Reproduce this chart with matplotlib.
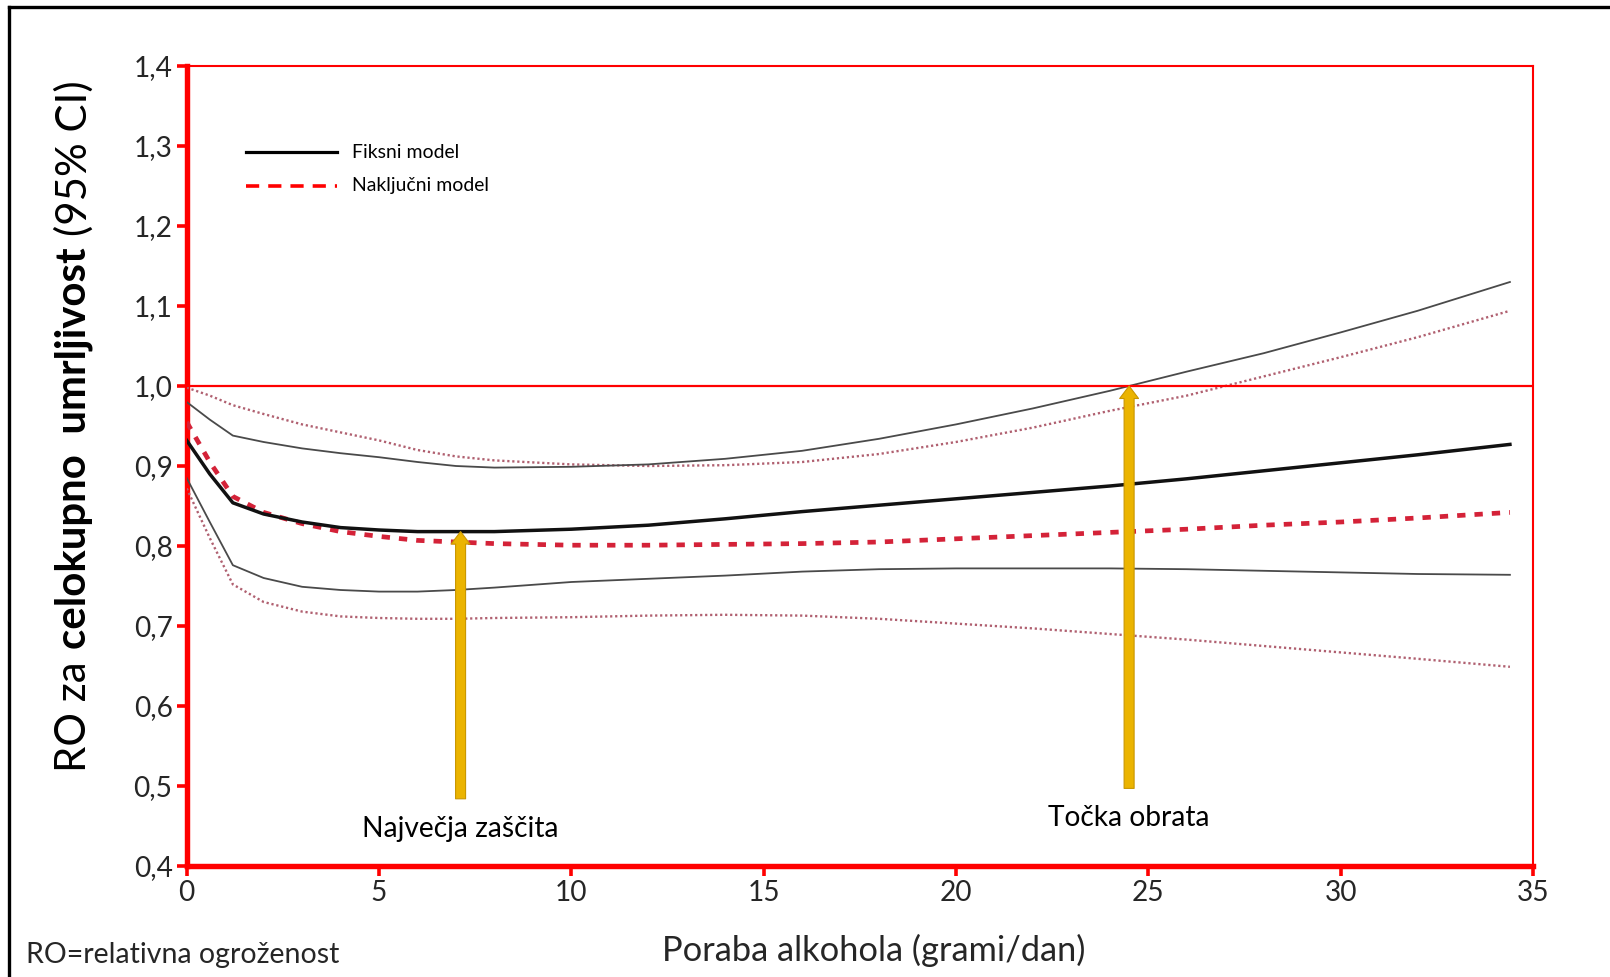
import matplotlib
matplotlib.use("Agg")
import matplotlib.pyplot as plt
from matplotlib.lines import Line2D
from matplotlib.ticker import FixedLocator, FuncFormatter

plt.rcParams['font.family'] = ['Lato', 'DejaVu Sans']
plt.rcParams['lines.scale_dashes'] = False

# ---------------- data ----------------
alcohol = [0, 0.6, 1.2, 2, 3, 4, 5, 6, 7, 8, 10, 12, 14, 16, 18, 20, 22, 24, 26, 28, 30, 32, 34.4]
fixed_rr = [0.932, 0.890, 0.854, 0.840, 0.830, 0.823, 0.820, 0.818, 0.818, 0.818, 0.821, 0.826,
            0.834, 0.843, 0.851, 0.859, 0.867, 0.875, 0.884, 0.894, 0.904, 0.914, 0.927]
fixed_upper = [0.980, 0.958, 0.938, 0.930, 0.922, 0.916, 0.911, 0.905, 0.900, 0.898, 0.899, 0.902,
               0.909, 0.919, 0.934, 0.952, 0.972, 0.994, 1.018, 1.041, 1.067, 1.094, 1.130]
fixed_lower = [0.885, 0.830, 0.776, 0.760, 0.749, 0.745, 0.743, 0.743, 0.745, 0.748, 0.755, 0.759,
               0.763, 0.768, 0.771, 0.772, 0.772, 0.772, 0.771, 0.769, 0.767, 0.765, 0.764]
random_rr = [0.955, 0.905, 0.862, 0.842, 0.828, 0.818, 0.812, 0.807, 0.805, 0.803, 0.801, 0.801,
             0.802, 0.803, 0.805, 0.809, 0.813, 0.817, 0.821, 0.826, 0.830, 0.835, 0.842]
random_upper = [0.998, 0.988, 0.976, 0.965, 0.952, 0.942, 0.932, 0.920, 0.912, 0.907, 0.902, 0.900,
                0.901, 0.905, 0.915, 0.930, 0.948, 0.969, 0.988, 1.012, 1.036, 1.061, 1.094]
random_lower = [0.872, 0.810, 0.752, 0.730, 0.718, 0.712, 0.710, 0.709, 0.709, 0.710, 0.711, 0.713,
                0.714, 0.713, 0.709, 0.703, 0.697, 0.690, 0.683, 0.675, 0.667, 0.659, 0.649]

x_ticks = [0, 5, 10, 15, 20, 25, 30, 35]
y_ticks = [0.4, 0.5, 0.6, 0.7, 0.8, 0.9, 1.0, 1.1, 1.2, 1.3, 1.4]
reference_rr = 1.0

legend_labels = ['Fiksni model', 'Naključni model']
arrow_x = [7.12, 24.5]
arrow_tail = [0.484, 0.497]
arrow_head = [0.818, 1.0]
arrow_text = ['Največja zaščita', 'Točka obrata']
arrow_text_y = [0.446, 0.460]

x_label = 'Poraba alkohola (grami/dan)'
y_label_parts = ['RO za', 'celokupno  umrljivost', '(95% CI)']
footnote = 'RO=relativna ogroženost'

# ---------------- figure ----------------
W, H = 1610, 977
fig = plt.figure(figsize=(W / 100, H / 100), dpi=100)
fig.patch.set_facecolor('white')
renderer = fig.canvas.get_renderer()


def fx(px):
    return px / W


def fy(py):
    return 1 - py / H


def fitted_size(s, target_w, weight='normal', base=20.0):
    t = fig.text(0, 0, s, fontsize=base, fontweight=weight)
    w = t.get_window_extent(renderer=renderer).width
    t.remove()
    return base * target_w / w


ax_left, ax_right, ax_top, ax_bottom = 186.7, 1533.0, 66.0, 866.0
ax = fig.add_axes([fx(ax_left), fy(ax_bottom), (ax_right - ax_left) / W, (ax_bottom - ax_top) / H])

red = '#ff0000'
text_col = '#262626'

# curves
ax.plot(alcohol, random_upper, color='#b06070', lw=1.7, dashes=(1.6, 2.0), zorder=3)
ax.plot(alcohol, random_lower, color='#b06070', lw=1.7, dashes=(1.6, 2.0), zorder=3)
ax.plot(alcohol, fixed_upper, color='#4a4a4a', lw=1.3, zorder=3)
ax.plot(alcohol, fixed_lower, color='#4a4a4a', lw=1.3, zorder=3)
ax.plot(alcohol, random_rr, color='#d42238', lw=3.4, dashes=(6.0, 6.5), zorder=4)
ax.plot(alcohol, fixed_rr, color='#111111', lw=2.5, zorder=5)

ax.axhline(reference_rr, color=red, lw=1.6, zorder=6)

ax.set_xlim(0, 35)
ax.set_ylim(0.4, 1.4)
ax.xaxis.set_major_locator(FixedLocator(x_ticks))
ax.yaxis.set_major_locator(FixedLocator(y_ticks))
ax.yaxis.set_major_formatter(FuncFormatter(lambda v, p: f'{v:.1f}'.replace('.', ',')))
ax.xaxis.set_major_formatter(FuncFormatter(lambda v, p: f'{v:g}'))

for s in ['left', 'bottom']:
    ax.spines[s].set_color(red)
    ax.spines[s].set_linewidth(3.9)
for s in ['top', 'right']:
    ax.spines[s].set_color(red)
    ax.spines[s].set_linewidth(1.5)

tick_fs = fitted_size('1,4', 39)
ax.tick_params(axis='both', direction='out', length=7.2, width=2.6, color=red,
               labelcolor=text_col, labelsize=tick_fs, pad=3)

# arrows and annotations
ann_fs = fitted_size(arrow_text[0], 196)
for xa, yt, yh, txt, ty in zip(arrow_x, arrow_tail, arrow_head, arrow_text, arrow_text_y):
    ax.annotate('', xy=(xa, yh), xytext=(xa, yt),
                arrowprops=dict(arrowstyle='simple,head_length=0.45,head_width=0.68,tail_width=0.36',
                                fc='#ebb400', ec='#c99600', lw=0.8, shrinkA=0, shrinkB=0,
                                mutation_scale=20),
                zorder=7)
    ax.text(xa, ty, txt, ha='center', va='center', fontsize=ann_fs, color='black', zorder=7)

# legend (manual)
leg_fs = fitted_size(legend_labels[0], 107)
fig.add_artist(Line2D([fx(246), fx(337)], [fy(152), fy(152)], color='black', lw=2.3))
fig.add_artist(Line2D([fx(246), fx(337)], [fy(186), fy(186)], color=red, lw=2.6, dashes=(9.5, 6.5)))
fig.text(fx(352), fy(152), legend_labels[0], ha='left', va='center', fontsize=leg_fs)
fig.text(fx(352), fy(186), legend_labels[1], ha='left', va='center', fontsize=leg_fs)

# x label and footnote
xl_fs = fitted_size(x_label, 423)
fig.text(fx(874), fy(950), x_label, ha='center', va='center', fontsize=xl_fs, color=text_col)
fn_fs = fitted_size(footnote, 313)
fig.text(fx(26), fy(955), footnote, ha='left', va='center', fontsize=fn_fs, color=text_col)

# y label in three pieces (rotated)
weights = ['normal', 'bold', 'normal']
base = 26.0
pieces = [fig.text(0, 0, s, rotation=90, fontsize=base, fontweight=w, rotation_mode='anchor',
                   ha='left', va='center', color='black')
          for s, w in zip(y_label_parts, weights)]
lens = [p.get_window_extent(renderer=renderer).height for p in pieces]
gap = 12.0
total_target = 692.0
scale = (total_target - 2 * gap) / sum(lens)
for p in pieces:
    p.set_fontsize(base * scale)
lens = [p.get_window_extent(renderer=renderer).height for p in pieces]
total = sum(lens) + 2 * gap
cur = 426 + total / 2
for p, L in zip(pieces, lens):
    p.set_position((fx(74), fy(cur)))
    cur -= L + gap

# outer frame
fig.add_artist(Line2D([fx(8.5), fx(8.5)], [fy(7), fy(1000)], color='black', lw=2.4))
fig.add_artist(Line2D([fx(8.5), fx(1620)], [fy(7), fy(7)], color='black', lw=2.4))

fig.savefig('out.png', dpi=100, facecolor='white')
